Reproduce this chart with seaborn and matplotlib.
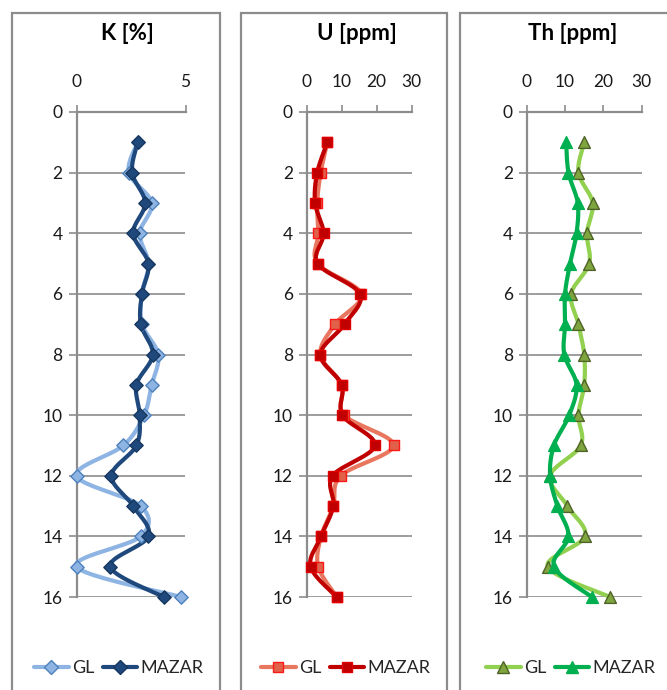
import numpy as np
import matplotlib
matplotlib.use("Agg")
import matplotlib.pyplot as plt
from matplotlib.lines import Line2D
from matplotlib.patches import Rectangle
import seaborn as sns

sns.set_theme(style="white")
plt.rcParams['font.family'] = ['Lato', 'DejaVu Sans']

# ---------------- data ----------------
depth = [1, 2, 3, 4, 5, 6, 7, 8, 9, 10, 11, 12, 13, 14, 15, 16]

k_gl    = [2.8, 2.4, 3.45, 2.9, 3.3, 3.0, 3.0, 3.75, 3.45, 3.1, 2.15, 0.0, 2.95, 2.95, 0.0, 4.8]
k_mazar = [2.8, 2.55, 3.15, 2.6, 3.3, 3.0, 2.95, 3.5, 2.75, 2.9, 2.75, 1.6, 2.6, 3.3, 1.55, 4.0]

u_gl    = [5.9, 4.0, 3.0, 3.3, 3.1, 15.6, 8.1, 3.9, 10.0, 10.7, 24.8, 9.7, 7.6, 4.1, 3.3, 8.6]
u_mazar = [5.9, 3.0, 2.4, 4.8, 3.1, 15.2, 10.8, 3.9, 10.0, 10.2, 19.5, 7.4, 7.6, 4.1, 1.1, 8.6]

th_gl    = [15.0, 13.5, 17.2, 15.7, 16.3, 11.6, 13.5, 15.0, 15.0, 13.5, 14.1, 6.1, 10.6, 15.2, 5.5, 21.7]
th_mazar = [10.3, 10.9, 13.3, 13.0, 11.3, 10.0, 10.0, 9.8, 13.0, 11.1, 7.1, 6.1, 8.0, 10.9, 7.1, 17.0]

titles = ["K [%]", "U [ppm]", "Th [ppm]"]
series_labels = ["GL", "MAZAR"]
x_ticks = [[0, 5], [0, 10, 20, 30], [0, 10, 20, 30]]
y_ticks = [0, 2, 4, 6, 8, 10, 12, 14, 16]

# ---------------- helpers ----------------
def smooth(xv, yv, sx, sy, n=24):
    """Excel-style smoothed path (Catmull-Rom Bezier) through the data points."""
    P = np.column_stack([np.asarray(xv, float) * sx, np.asarray(yv, float) * sy])
    pts = []
    m = len(P)
    t = np.linspace(0, 1, n)
    for i in range(m - 1):
        p0 = P[i - 1] if i > 0 else P[i]
        p1 = P[i]
        p2 = P[i + 1]
        p3 = P[i + 2] if i + 2 < m else P[i + 1]
        c1 = p1 + (p2 - p0) / 6.0
        c2 = p2 - (p3 - p1) / 6.0
        seg = ((1 - t)[:, None] ** 3 * p1 + 3 * ((1 - t) ** 2 * t)[:, None] * c1
               + 3 * ((1 - t) * t ** 2)[:, None] * c2 + (t ** 3)[:, None] * p2)
        pts.append(seg if i == 0 else seg[1:])
    pts = np.vstack(pts)
    return pts[:, 0] / sx, pts[:, 1] / sy

W, H = 667, 690
fig = plt.figure(figsize=(W / 100, H / 100), dpi=100)

# panel frames (px)
frames = [(12, 220), (241, 447), (460, 690)]
for x0, x1 in frames:
    fig.patches.append(Rectangle((x0 / W, -0.05), (x1 - x0) / W, 1.05 - 12.5 / H,
                                 transform=fig.transFigure, fill=False,
                                 edgecolor='#8c8c8c', linewidth=1.6, zorder=0))

# axes placement (px)
axes_px = [(76.5, 185.5), (306.7, 411.7), (526.7, 641.7)]
y_top, y_bot = 112, 597
title_x = [127, 357, 573]
legend_x = [119, 346, 571]

styles = [
    dict(xmax=5,
         gl=dict(line='#8DB4E2', mfc='#8DB4E2', mec='#4F81BD', marker='D', s=46),
         mz=dict(line='#1F497D', mfc='#1F497D', mec='#17375E', marker='D', s=46)),
    dict(xmax=30,
         gl=dict(line='#E9765E', mfc='#E0604A', mec='#FF1A1A', marker='s', s=62),
         mz=dict(line='#C00000', mfc='#C00000', mec='#E00000', marker='s', s=62)),
    dict(xmax=30,
         gl=dict(line='#92D050', mfc='#7FA63E', mec='#4F6228', marker='^', s=72),
         mz=dict(line='#00B050', mfc='#00B050', mec='#00B050', marker='^', s=72)),
]
data = [(k_gl, k_mazar), (u_gl, u_mazar), (th_gl, th_mazar)]

for i in range(3):
    x0, x1 = axes_px[i]
    ax = fig.add_axes([x0 / W, 1 - y_bot / H, (x1 - x0) / W, (y_bot - y_top) / H])
    st = styles[i]
    xmax = st['xmax']
    sx = (x1 - x0) / xmax
    sy = (y_bot - y_top) / 16.0

    handles = []
    for vals, key, lab in zip(data[i], ['gl', 'mz'], series_labels):
        s = st[key]
        cx, cy = smooth(vals, depth, sx, sy)
        sns.lineplot(x=cx, y=cy, sort=False, estimator=None, ax=ax, color=s['line'],
                     linewidth=3.0, zorder=3, legend=False, clip_on=False)
        sns.scatterplot(x=vals, y=depth, ax=ax, marker=s['marker'], s=s['s'],
                        color=s['mfc'], edgecolor=s['mec'], linewidth=1.0,
                        zorder=4, legend=False, clip_on=False)
        handles.append(Line2D([], [], color=s['line'], linewidth=3.0, marker=s['marker'],
                              markersize=np.sqrt(s['s']), markerfacecolor=s['mfc'],
                              markeredgecolor=s['mec'], markeredgewidth=1.0, label=lab))

    ax.set_xlim(0, xmax)
    ax.set_ylim(16, 0)
    ax.set_xticks(x_ticks[i])
    ax.set_yticks(y_ticks)
    ax.set_xlabel('')
    ax.set_ylabel('')
    ax.xaxis.tick_top()
    ax.set_facecolor('none')
    for side in ['right', 'bottom']:
        ax.spines[side].set_visible(False)
    for side in ['top', 'left']:
        ax.spines[side].set_color('#8c8c8c')
        ax.spines[side].set_linewidth(1.6)
        ax.spines[side].set_zorder(2)
    ax.grid(axis='y', color='#8c8c8c', linewidth=1.2, zorder=1)
    ax.grid(axis='x', visible=False)
    ax.set_axisbelow(True)
    ax.tick_params(axis='x', which='both', direction='out', length=5, width=1.2,
                   color='#8c8c8c', pad=11, labelsize=12.5, labelcolor='#1a1a1a',
                   top=True, bottom=False, labeltop=True, labelbottom=False)
    ax.tick_params(axis='y', which='both', direction='out', length=6, width=1.2,
                   color='#8c8c8c', pad=4, labelsize=12.5, labelcolor='#1a1a1a', left=True)

    fig.text(title_x[i] / W, 1 - 33 / H, titles[i], ha='center', va='center',
             fontsize=16, fontweight='bold', color='black')

    fig.legend(handles=handles, loc='center', ncol=2,
               bbox_to_anchor=(legend_x[i] / W, 1 - 668 / H),
               frameon=False, fontsize=13, handlelength=1.9, handletextpad=0.2,
               columnspacing=0.45, borderaxespad=0, borderpad=0)

fig.savefig('out.png', dpi=100)
